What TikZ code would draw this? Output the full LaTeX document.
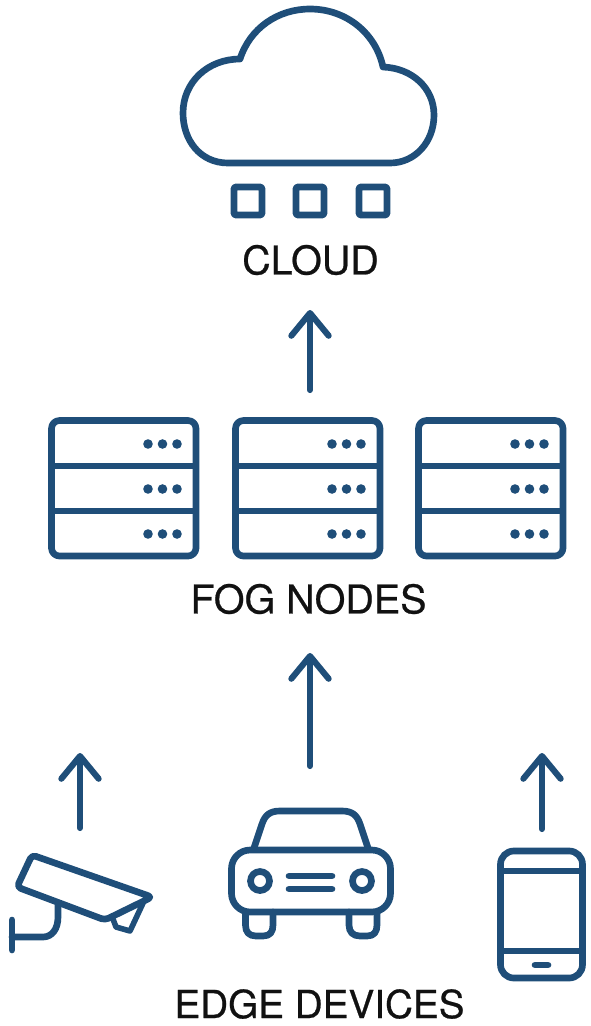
\documentclass[tikz,border=0pt]{standalone}
\usepackage{fontspec}
\setmainfont[FakeBold=0.6]{TeX Gyre Heros}
\usetikzlibrary{arrows.meta}
\definecolor{fogblue}{RGB}{31,78,121}
\definecolor{labelink}{RGB}{17,17,17}
\tikzset{
  icon/.style={draw=fogblue, line width=5pt, line cap=round, line join=round},
  thinicon/.style={icon, line width=4.2pt},
  flowarrow/.style={icon, line width=4.6pt, -{Straight Barb[round,length=17pt,width=28pt]}},
  tierlabel/.style={text=labelink, inner sep=0pt, font=\fontsize{29.6}{31}\selectfont},
}

\begin{document}
\begin{tikzpicture}[x=0.75pt, y=-0.75pt]
  \useasboundingbox (0,0) rectangle (590,1026);

  % --- cloud (top) ---
  \draw[icon] (228,163) .. controls (200,163) and (183,140) .. (183,113)
    .. controls (183,82) and (208,59) .. (240,59)
    .. controls (250,28) and (278,9) .. (310,9)
    .. controls (347,9) and (376,34) .. (383,67)
    .. controls (412,68) and (434,88) .. (434,115)
    .. controls (434,142) and (415,163) .. (390,163) -- cycle;

  % data squares under the cloud
  \foreach \sx in {248,310,373}
    \draw[icon, rounded corners=1pt] (\sx-14,187) rectangle (\sx+14,215);

  \node[tierlabel] (cloudlabel) at (310.5,260) {CLOUD};

  % --- fog racks (one frame, two dividers, three rows of dots) ---
  \foreach \rx in {0,184,367} {
    \draw[icon, rounded corners=6pt] (51.5+\rx,420.5) rectangle (196+\rx,556);
    \draw[icon, line cap=butt] (51.5+\rx,466) -- (196+\rx,466);
    \draw[icon, line cap=butt] (51.5+\rx,511) -- (196+\rx,511);
    \foreach \dy in {444,489,534}
      \foreach \dx in {148,162.5,177}
        \fill[fogblue] (\dx+\rx,\dy) circle (4.8);
  }

  \node[tierlabel] (foglabel) at (308.5,599) {FOG NODES};

  % --- camera (left) ---
  \draw[icon, rounded corners=3pt] (32,855) -- (152,897) -- (105,920) -- (17,887) -- cycle;
  \draw[thinicon] (113,919) -- (116,927) -- (130,931) -- (144,901);
  \draw[icon] (58,905) -- (58,917) .. controls (58,929) and (52,937) .. (43,937) -- (12,937);
  \draw[icon] (12,920) -- (12,950);

  % --- car (centre) ---
  \draw[icon, rounded corners=14pt] (231.5,850) rectangle (390.5,912);
  \draw[icon] (254,848) -- (262,824) .. controls (265,815) and (270,811) .. (280,811)
    -- (342,811) .. controls (352,811) and (357,815) .. (360,824) -- (368,848);
  \draw[icon] (260,881) circle (9.5);
  \draw[icon] (362,881) circle (9.5);
  \draw[icon] (289,876) -- (332,876);
  \draw[icon] (289,889) -- (332,889);
  \draw[icon] (245.5,912) -- (245.5,925) .. controls (245.5,932) and (249,936) .. (256,936)
    -- (263,936) .. controls (270,936) and (273,932) .. (273,925) -- (273,912);
  \draw[icon] (349,912) -- (349,925) .. controls (349,932) and (353,936) .. (360,936)
    -- (367,936) .. controls (374,936) and (377,932) .. (377,925) -- (377,912);

  % --- phone (right) ---
  \draw[icon, rounded corners=10pt] (500.5,851) rectangle (582.5,978);
  \draw[icon, line cap=butt] (500.5,871) -- (582.5,871);
  \draw[icon, line cap=butt] (500.5,951) -- (582.5,951);
  \draw[icon] (535,965) -- (548,965);

  \node[tierlabel, font=\fontsize{29}{31}\selectfont] (edgelabel) at (319.5,1004) {EDGE DEVICES};

  % --- flow arrows ---
  \coordinate (fog-out) at (310,390);
  \coordinate (cloud-in) at (310,310);
  \coordinate (car-out) at (310,766);
  \coordinate (fog-in) at (310,653);
  \coordinate (cam-out) at (80,828);
  \coordinate (cam-tip) at (80,753);
  \coordinate (phone-out) at (542,829);
  \coordinate (phone-tip) at (542,753);

  \draw[flowarrow] (fog-out) -- (cloud-in);
  \draw[flowarrow] (car-out) -- (fog-in);
  \draw[flowarrow] (cam-out) -- (cam-tip);
  \draw[flowarrow] (phone-out) -- (phone-tip);
\end{tikzpicture}
\end{document}
